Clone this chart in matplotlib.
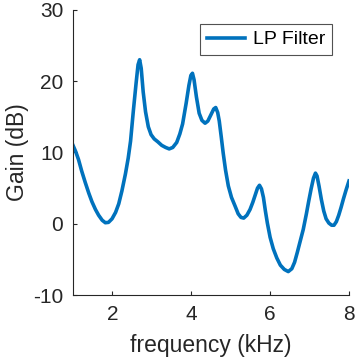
import numpy as np
import matplotlib
matplotlib.use("Agg")
import matplotlib.pyplot as plt

# gain curve (kHz, dB)
freq = [1.00, 1.07, 1.14, 1.22, 1.31, 1.40, 1.48, 1.57, 1.65, 1.74, 1.82, 1.90,
        1.99, 2.08, 2.16, 2.24, 2.33, 2.40, 2.46, 2.53, 2.60, 2.65, 2.69, 2.73,
        2.78, 2.84, 2.91, 2.98, 3.06, 3.15, 3.25, 3.35, 3.44, 3.53, 3.63, 3.71,
        3.78, 3.87, 3.94, 3.99, 4.03, 4.07, 4.13, 4.20, 4.27, 4.35, 4.42, 4.50,
        4.57, 4.62, 4.67, 4.71, 4.76, 4.81, 4.87, 4.94, 5.02, 5.11, 5.19, 5.26,
        5.33, 5.41, 5.49, 5.56, 5.62, 5.68, 5.73, 5.78, 5.83, 5.88, 5.93, 6.00,
        6.08, 6.17, 6.26, 6.36, 6.46, 6.55, 6.62, 6.69, 6.76, 6.84, 6.92, 6.98,
        7.04, 7.10, 7.15, 7.19, 7.24, 7.30, 7.36, 7.42, 7.49, 7.56, 7.62, 7.68,
        7.74, 7.80, 7.86, 7.93, 8.00]
gain = [11.0, 10.1, 9.0, 7.4, 5.8, 4.3, 3.1, 2.0, 1.2, 0.5, 0.15, 0.2,
        0.7, 1.6, 2.8, 4.6, 7.0, 9.2, 11.6, 15.8, 19.7, 22.3, 23.0, 21.8,
        18.5, 15.7, 13.6, 12.5, 11.9, 11.5, 11.0, 10.7, 10.5, 10.7, 11.4, 12.6,
        14.0, 16.9, 19.4, 20.8, 21.1, 20.2, 17.8, 15.5, 14.5, 14.1, 14.4, 15.3,
        16.1, 16.3, 15.6, 14.4, 12.2, 9.9, 7.5, 5.3, 3.7, 2.5, 1.4, 0.9,
        0.8, 1.2, 2.0, 3.0, 4.0, 5.0, 5.4, 4.9, 3.7, 1.8, 0.1, -1.9,
        -3.5, -4.8, -5.8, -6.4, -6.7, -6.3, -5.4, -4.0, -2.5, -0.8, 1.4, 3.2,
        4.9, 6.4, 7.1, 6.7, 5.3, 3.4, 1.8, 0.7, 0.1, -0.2, -0.2, 0.3,
        1.2, 2.3, 3.5, 4.8, 6.0]

xticks = [2, 4, 6, 8]
yticks = [-10, 0, 10, 20, 30]

plt.rcParams['font.family'] = ['Liberation Sans', 'DejaVu Sans']
plt.rcParams['axes.unicode_minus'] = False

fig = plt.figure(figsize=(3.57, 3.63), dpi=100)
ax = fig.add_axes([0.2045, 0.187, 0.773, 0.786])

ax.plot(freq, gain, color='#0072BD', linewidth=2.6, label='LP Filter')

ax.set_xlim(1, 8)
ax.set_ylim(-10, 30)
ax.set_xticks(xticks)
ax.set_yticks(yticks)
ax.set_xlabel('frequency (kHz)', fontsize=16.5, color='#262626', labelpad=7)
ax.set_ylabel('Gain (dB)', fontsize=16.5, color='#262626', labelpad=3)

for s in ['top', 'right']:
    ax.spines[s].set_visible(False)
for s in ['left', 'bottom']:
    ax.spines[s].set_color('#262626')
    ax.spines[s].set_linewidth(0.8)
ax.tick_params(direction='in', length=3, width=0.8, colors='#262626',
               labelsize=15, pad=7)

leg = ax.legend(loc='upper right', bbox_to_anchor=(0.94, 0.95), fontsize=14,
                frameon=True, fancybox=False, handlelength=2.0,
                borderpad=0.35, handletextpad=0.4, borderaxespad=0)
leg.get_frame().set_edgecolor('#262626')
leg.get_frame().set_linewidth(0.8)

fig.savefig('out.png', dpi=100)
